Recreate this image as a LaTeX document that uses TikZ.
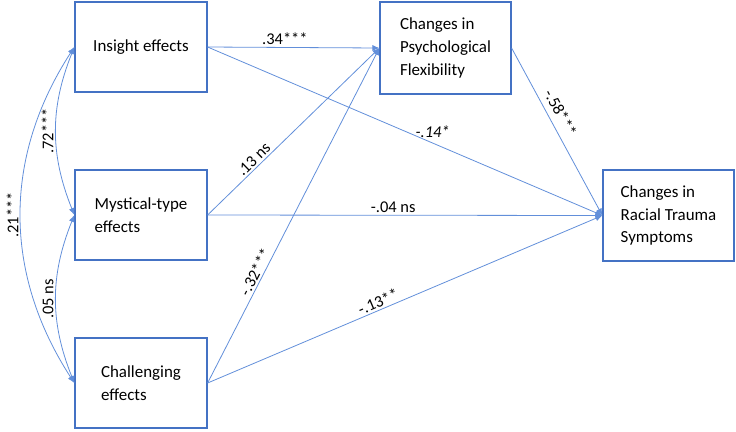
\documentclass[tikz,border=0pt]{standalone}
\usepackage{fontspec}
\setmainfont{Carlito}
\usetikzlibrary{arrows.meta}
\definecolor{boxblue}{RGB}{68,114,196}
\definecolor{pathblue}{RGB}{98,143,218}

\begin{document}
\begin{tikzpicture}[
    x=1bp, y=-1bp,
    var/.style={draw=boxblue, line width=1.2bp, minimum width=132bp, minimum height=90bp,
        align=left, inner sep=0pt, font=\fontsize{17}{23}\selectfont},
    effect/.style={draw=pathblue, line width=0.8bp, -{Latex[length=7bp,width=6bp]}},
    corr/.style={draw=pathblue, line width=0.8bp, {Latex[length=7bp,width=6bp]}-{Latex[length=7bp,width=6bp]}},
    coef/.style={font=\fontsize{16.5}{18}\selectfont, inner sep=2bp}
]
\useasboundingbox (0,0) rectangle (736,431);

% predictors
\node[var] (insight) at (141,47) {Insight effects};
\node[var] (mystical) at (141,215) {Mystical-type\\ effects};
\node[var] (challenging) at (141,383) {Challenging\\ effects};

% mediator and outcome
\node[var, minimum width=131bp, minimum height=92bp] (flex) at (445.5,48) {Changes in\\Psychological\\Flexibility};
\node[var, minimum width=131bp, minimum height=91bp] (trauma) at (668.5,215.5) {Changes in\\Racial Trauma\\Symptoms};

% paths to the mediator
\draw[effect] (insight.east) -- node[coef, pos=0.45, above] {.34***} (flex.west);
\draw[effect] (mystical.east) -- node[coef, pos=0.3, sloped, above] {.13 ns} (flex.west);
\draw[effect] (challenging.east) -- node[coef, pos=0.32, sloped, above] {-.32***} (flex.west);

% paths to the outcome
\draw[effect] (insight.east) -- node[coef, pos=0.57, above=3bp] {\textit{-.14*}} (trauma.west);
\draw[effect] (mystical.east) -- node[coef, pos=0.47, above] {-.04 ns} (trauma.west);
\draw[effect] (challenging.east) -- node[coef, pos=0.44, sloped, above] {-.13**} (trauma.west);
\draw[effect] (flex.east) -- node[coef, pos=0.42, sloped, above=4bp] {-.58***} (trauma.west);

% correlations
\draw[corr] (insight.west) to[bend right=22] node[coef, midway, rotate=90, anchor=south] {.72***} (mystical.west);
\draw[corr] (mystical.west) to[bend right=22] node[coef, midway, rotate=90, anchor=south] {.05 ns} (challenging.west);
\draw[corr] (insight.west) to[bend right=33] node[coef, midway, rotate=90, anchor=south] {.21***} (challenging.west);

\end{tikzpicture}
\end{document}
